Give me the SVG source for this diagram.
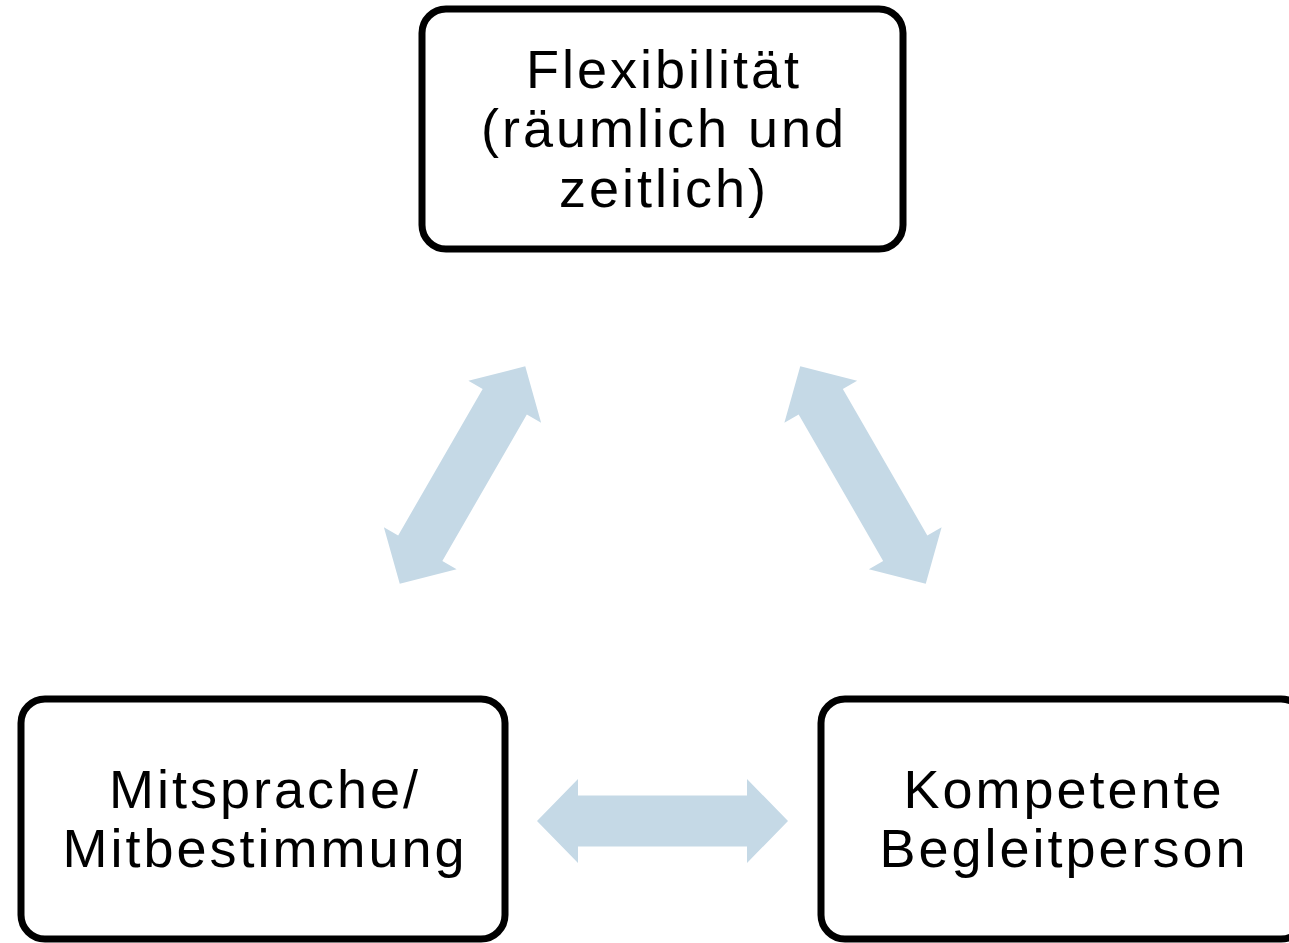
<svg xmlns="http://www.w3.org/2000/svg" width="1289" height="943" viewBox="0 0 1289 943">
  <style>
    .box { fill: #ffffff; stroke: #000000; stroke-width: 7; }
    .lbl { font-family: "Liberation Sans", Arial, sans-serif; font-size: 54px; letter-spacing: 3px; fill: #000000; text-anchor: middle; }
    .arr { fill: #c5d9e6; }
  </style>
  <defs>
    <path id="dblArrow" d="M -125.5 0 L -84.5 -42 L -84.5 -25.5 L 84.5 -25.5 L 84.5 -42 L 125.5 0 L 84.5 42 L 84.5 25.5 L -84.5 25.5 L -84.5 42 Z"/>
  </defs>
  <rect width="1289" height="943" fill="#ffffff"/>
  <g id="connectors">
    <use href="#dblArrow" class="arr" transform="translate(462.5,475) rotate(-60)"/>
    <use href="#dblArrow" class="arr" transform="translate(863,475) rotate(60)"/>
    <use href="#dblArrow" class="arr" transform="translate(662.5,821)"/>
  </g>
  <g id="node-flexibilitaet">
    <rect class="box" x="422" y="9" width="481" height="240" rx="24" ry="24"/>
    <text class="lbl" x="664" y="88">Flexibilität</text>
    <text class="lbl" x="664" y="147">(räumlich und</text>
    <text class="lbl" x="664" y="207">zeitlich)</text>
  </g>
  <g id="node-mitsprache">
    <rect class="box" x="21" y="699" width="484" height="240" rx="24" ry="24"/>
    <text class="lbl" x="265" y="808">Mitsprache/</text>
    <text class="lbl" x="265" y="867">Mitbestimmung</text>
  </g>
  <g id="node-begleitperson">
    <rect class="box" x="821" y="699" width="484" height="240" rx="24" ry="24"/>
    <text class="lbl" x="1064" y="808">Kompetente</text>
    <text class="lbl" x="1064" y="867">Begleitperson</text>
  </g>
</svg>
